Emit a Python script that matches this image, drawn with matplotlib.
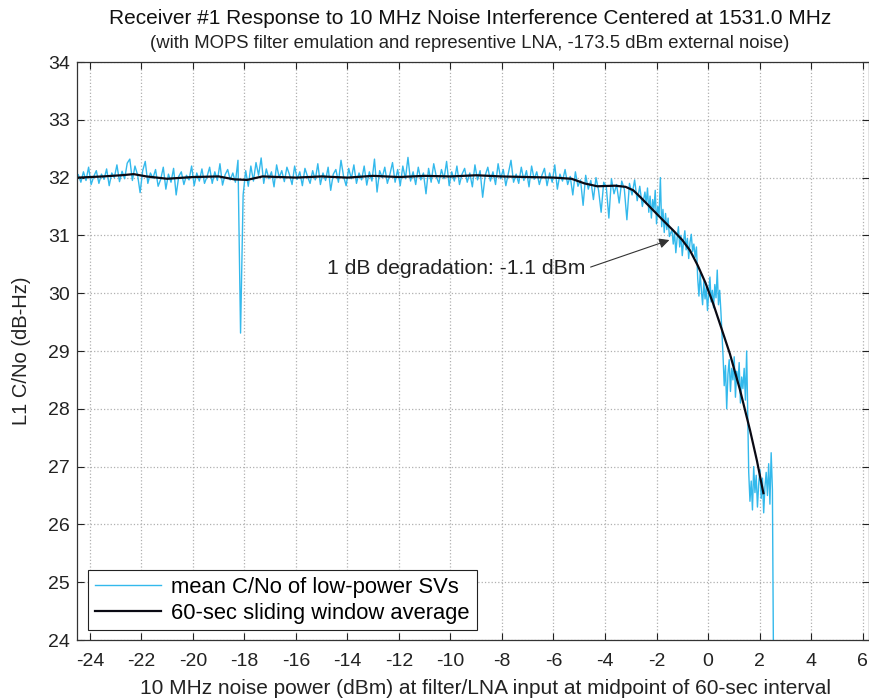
import numpy as np
import matplotlib
matplotlib.use('Agg')
from matplotlib import pyplot as plt

plt.rcParams['font.family'] = ['Liberation Sans', 'DejaVu Sans']

# mean C/No of low-power SVs, flat part (x step 0.1 from -24.45)
cn_flat = [
    32.05, 31.92, 32.10, 31.95, 32.18, 31.88, 32.02, 32.12, 31.90, 32.06,
    31.97, 32.15, 31.86, 32.08, 32.00, 32.22, 31.93, 32.11, 31.98, 32.25,
    32.32, 31.95, 32.20, 32.05, 31.74, 32.12, 32.28, 31.90, 32.08, 31.99,
    32.14, 31.85, 31.97, 32.18, 31.80, 32.06, 31.92, 32.16, 31.70, 32.02,
    32.10, 31.88, 32.04, 31.96, 32.20, 31.86, 32.08, 31.94, 32.15, 31.90,
    32.02, 32.18, 31.90, 32.10, 31.95, 32.24, 31.87, 32.05, 32.14, 31.96,
    32.08, 31.92, 32.30, 29.31, 31.70, 32.12, 31.85, 32.20, 31.94, 32.26,
    32.04, 32.34, 31.90, 32.15, 31.98, 32.10, 31.84, 32.22, 32.00, 32.12,
    31.93, 32.18, 32.05, 31.88, 32.20, 31.97, 32.10, 31.86, 32.16, 32.02,
    31.90, 32.12, 31.96, 32.24, 31.88, 32.08, 31.95, 32.18, 31.78, 32.06,
    32.14, 31.92, 32.30, 32.02, 31.86, 32.16, 31.98, 32.22, 31.90, 32.08,
    31.96, 32.20, 31.87, 32.10, 31.94, 32.32, 31.75, 32.12, 32.00, 32.18,
    31.90, 32.06, 32.26, 31.92, 32.14, 31.86, 32.20, 31.98, 32.35, 31.94,
    32.10, 31.88, 32.18, 31.96, 32.08, 31.72, 32.16, 31.92, 32.24, 32.02,
    31.90, 32.14, 31.98, 32.28, 31.86, 32.10, 31.94, 32.20, 31.88, 32.06,
    32.16, 31.92, 32.08, 31.84, 32.22, 31.96, 32.12, 31.66, 32.04, 32.18,
    31.94, 32.10, 31.88, 32.24, 31.98, 32.14, 31.86, 32.08, 32.30, 31.92,
    32.06, 31.90, 32.18, 31.95, 32.12, 31.84, 32.20, 31.97, 32.10, 31.88,
    32.04, 32.16, 31.86, 32.08, 31.92, 32.22, 31.80, 32.06, 31.94, 32.14,
    31.88, 32.02, 31.70, 32.10, 31.85, 31.96, 31.52, 32.04, 31.80, 31.95,
    31.62, 32.00, 31.78, 31.40, 31.92, 31.84, 31.30, 31.98, 31.72, 31.88,
    31.56, 31.94, 31.80, 31.27, 31.90, 31.70, 31.96, 31.60, 31.85, 31.50,
]

# clusters in the steep part: (x start, x end, values)
clusters = [
    (-2.45, -1.50, [31.75, 31.55, 31.82, 31.40, 31.68, 31.30, 31.62, 31.45, 31.78, 31.20,
                    31.50, 31.35, 32.00, 31.15, 31.45, 31.05, 31.38, 31.10, 31.30, 30.98]),
    (-1.40, -0.45, [31.10, 30.85, 31.05, 30.70, 30.95, 31.15, 30.80, 31.00, 30.65, 30.90,
                    31.08, 30.75, 30.95, 30.60, 30.88, 31.02, 30.72, 30.85, 30.62, 30.80]),
    (-0.40, 0.50, [30.25, 29.95, 30.35, 30.05, 29.80, 30.20, 29.90, 30.10, 29.70, 30.00,
                   30.28, 29.85, 30.05, 29.75, 30.15, 29.92, 30.40, 29.80, 30.05, 29.68]),
    (0.58, 1.50, [28.95, 28.40, 28.75, 28.00, 28.60, 28.85, 28.30, 28.70, 28.50, 28.90,
                  28.20, 28.65, 28.45, 28.80, 28.10, 28.55, 28.35, 28.70, 28.15, 29.00]),
    (1.58, 2.50, [26.90, 26.40, 26.75, 26.25, 27.00, 26.55, 26.85, 26.30, 26.70, 26.95,
                  26.45, 26.80, 26.20, 26.65, 26.90, 26.50, 27.05, 26.35, 27.24, 26.60]),
]
tail_x = [2.55]
tail_y = [23.0]

# 60-sec sliding window average
avg_x = [-24.45, -23.5, -22.8, -22.3, -21.8, -21.0, -20.0, -19.0, -18.4, -17.9,
         -17.3, -16.0, -15.0, -14.0, -13.0, -12.0, -11.0, -10.0, -9.0, -8.0,
         -7.0, -6.0, -5.3, -4.8, -4.3, -3.6, -3.2, -2.9, -2.6, -2.14,
         -1.7, -1.36, -1.0, -0.7, -0.4, -0.1, 0.2, 0.5, 0.85, 1.24,
         1.63, 1.9, 2.15]
avg_y = [32.00, 32.02, 32.04, 32.06, 32.02, 31.98, 32.01, 32.02, 31.97, 31.96,
         32.02, 32.00, 32.02, 32.00, 32.03, 32.01, 32.03, 32.02, 32.04, 32.02,
         32.01, 32.00, 31.98, 31.90, 31.85, 31.86, 31.84, 31.78, 31.65, 31.44,
         31.24, 31.09, 30.92, 30.74, 30.48, 30.18, 29.82, 29.42, 28.95, 28.33,
         27.63, 27.10, 26.54]

xticks = list(range(-24, 7, 2))
yticks = list(range(24, 35))

# build the raw series
raw_x = list(np.linspace(-24.45, -2.55, len(cn_flat)))
raw_y = list(cn_flat)
for x0, x1, vals in clusters:
    raw_x += list(np.linspace(x0, x1, len(vals)))
    raw_y += vals
raw_x += tail_x
raw_y += tail_y

fig = plt.figure(figsize=(8.69, 7.0), dpi=100)
ax = fig.add_axes([77 / 869, 60 / 700, 792 / 869, 578 / 700])

ax.plot(raw_x, raw_y, color='#33b9ec', lw=1.0, label='mean C/No of low-power SVs')
ax.plot(avg_x, avg_y, color='#0a0a14', lw=1.6, label='60-sec sliding window average')

ax.set_xlim(-24.5, 6.25)
ax.set_ylim(24, 34)
ax.set_xticks(xticks)
ax.set_yticks(yticks)
ax.set_xticklabels([str(t) for t in xticks])
ax.tick_params(direction='in', top=True, right=True, length=5, labelsize=14,
               colors='#222222')
ax.tick_params(axis='x', pad=9)
ax.tick_params(axis='y', pad=5)
ax.grid(True, linestyle=':', color='#b0b0b0', lw=0.9)
for s in ax.spines.values():
    s.set_color('#333333')
    s.set_linewidth(0.9)

ax.set_xlabel('10 MHz noise power (dBm) at filter/LNA input at midpoint of 60-sec interval',
              fontsize=15, color='#222222')
ax.xaxis.set_label_coords(0.516, -0.068)
ax.set_ylabel('L1 C/No (dB-Hz)', fontsize=14.5, color='#222222')
ax.yaxis.set_label_coords(-0.058, 0.5)

fig.text(0.541, 0.974, 'Receiver #1 Response to 10 MHz Noise Interference Centered at 1531.0 MHz',
         ha='center', va='center', fontsize=15, color='#111111')
fig.text(0.541, 0.938, '(with MOPS filter emulation and representive LNA, -173.5 dBm external noise)',
         ha='center', va='center', fontsize=13.3, color='#222222')

ax.annotate('1 dB degradation: -1.1 dBm', xy=(-1.5, 30.92), xytext=(-14.8, 30.42),
            ha='left', va='center', fontsize=15.2, color='#222222',
            arrowprops=dict(arrowstyle='-|>', color='#333333', lw=0.8,
                            mutation_scale=15, relpos=(1, 0.5), shrinkA=2, shrinkB=0))

leg = ax.legend(loc='lower left', bbox_to_anchor=(0.014, 0.017), fontsize=15.8,
                fancybox=False, framealpha=1, edgecolor='#222222', borderpad=0.3,
                handlelength=3.0, handletextpad=0.5, labelspacing=0.22, borderaxespad=0)
leg.get_frame().set_linewidth(0.8)

fig.savefig('out.png', dpi=100)
